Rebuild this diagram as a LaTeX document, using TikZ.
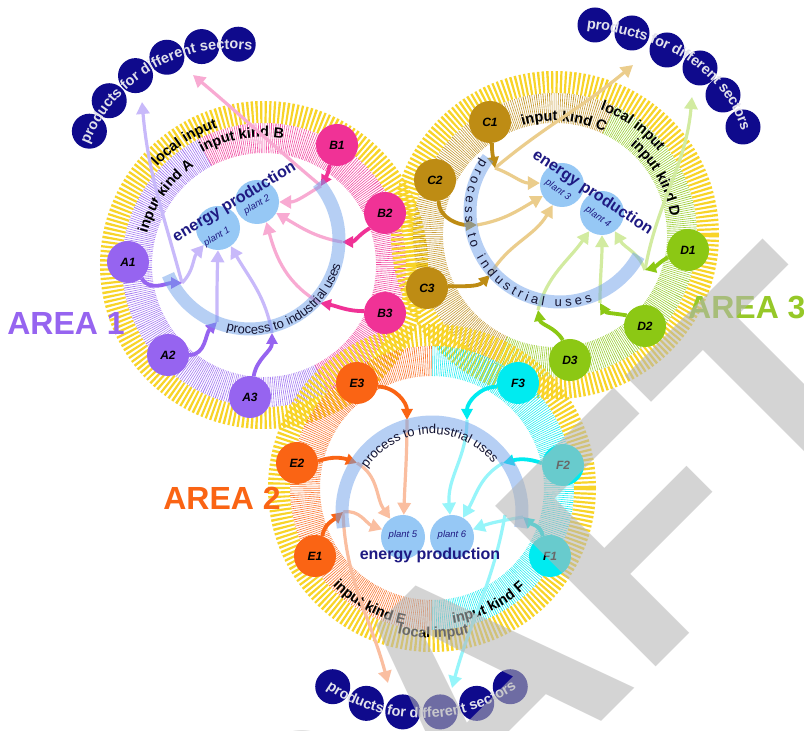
\documentclass[tikz,border=0pt]{standalone}
\usepackage{fontspec}
\setmainfont{Liberation Sans}
\usetikzlibrary{decorations.text,arrows.meta,calc}

\definecolor{colA}{RGB}{150,100,240}
\definecolor{colB}{RGB}{240,50,150}
\definecolor{colC}{RGB}{190,140,20}
\definecolor{colD}{RGB}{140,200,20}
\definecolor{colE}{RGB}{250,100,20}
\definecolor{colF}{RGB}{0,235,240}
\definecolor{paleA}{RGB}{200,185,250}
\definecolor{paleB}{RGB}{248,170,210}
\definecolor{paleC}{RGB}{235,205,140}
\definecolor{paleD}{RGB}{210,235,160}
\definecolor{paleE}{RGB}{250,190,160}
\definecolor{paleF}{RGB}{150,245,250}
\definecolor{ringY}{RGB}{248,212,40}
\definecolor{plantblue}{RGB}{150,200,245}
\definecolor{navy}{RGB}{15,10,140}
\definecolor{inkblue}{RGB}{30,25,130}
\definecolor{procblue}{RGB}{110,160,235}
\definecolor{procink}{RGB}{20,20,50}
\definecolor{prodink}{RGB}{225,225,235}
\definecolor{wmgray}{RGB}{181,181,181}
\definecolor{area3green}{RGB}{150,200,40}

\newcommand\ringfont{\fontsize{14.5}{15}\selectfont\bfseries}
\newcommand\procfont{\fontsize{13}{13}\selectfont}
\newcommand\prodfont{\fontsize{14.5}{15}\selectfont\bfseries}
% text set along a circular arc: centre, radius, start, end, font, colour, text
\newcommand\arclabel[7]{%
  \path[shift={#1}, decorate, decoration={text along path, text align=center,
        text color=#6, text={|#5|#7}}]
    (#3:#2) arc[start angle=#3, end angle=#4, radius=#2];}

\tikzset{
  areanode/.style={circle, minimum size=42pt, inner sep=0pt,
    font=\fontsize{12}{12}\selectfont\bfseries\itshape},
  plant/.style={circle, fill=plantblue, minimum size=44pt, inner sep=0pt},
  plantlabel/.style={inner sep=0pt, text=inkblue, font=\fontsize{9.5}{10}\selectfont\itshape},
  energy/.style={inner sep=0pt, text=inkblue, font=\fontsize{16}{16}\selectfont\bfseries},
  prod/.style={circle, fill=navy, minimum size=35pt, inner sep=0pt},
  feed/.style={line width=3.8pt, -{Triangle[length=11pt,width=11pt]}},
  pale/.style={line width=3.2pt, -{Triangle[length=12pt,width=13pt]}},
  yellowring/.style={draw=ringY, line width=22pt, dash pattern=on 2.2pt off 2.2pt},
  hatch/.style={line width=30pt, dash pattern=on 0.6pt off 1.4pt, draw opacity=0.85},
  proc/.style={draw=procblue, line width=13pt, opacity=0.5},
  arealabel/.style={inner sep=0pt, font=\fontsize{32}{32}\selectfont\bfseries},
}

\begin{document}
\begin{tikzpicture}[x=1pt,y=1pt]
\useasboundingbox (0,0) rectangle (804,731);
\clip (0,0) rectangle (804,731);
\fill[white] (0,0) rectangle (804,731);

% ---------- rings of the three areas ----------
\coordinate (cA) at (264,466);
\coordinate (cC) at (555,496);
\coordinate (cE) at (432,243);

\draw[yellowring] (cA) circle[radius=153];
\draw[hatch, colA, shift={(cA)}] (118:127) arc[start angle=118, end angle=297, radius=127];
\draw[hatch, colB, shift={(cA)}] (-63:127) arc[start angle=-63, end angle=118, radius=127];

\draw[yellowring] (cC) circle[radius=153];
\draw[hatch, colC, shift={(cC)}] (65:127) arc[start angle=65, end angle=245, radius=127];
\draw[hatch, colD, shift={(cC)}] (-115:127) arc[start angle=-115, end angle=65, radius=127];

\draw[yellowring] (cE) circle[radius=153];
\draw[hatch, colE, shift={(cE)}] (90:127) arc[start angle=90, end angle=270, radius=127];
\draw[hatch, colF, shift={(cE)}] (-90:127) arc[start angle=-90, end angle=90, radius=127];

% ---------- ring labels ----------
\arclabel{(cA)}{121}{185}{105}{\ringfont}{black}{input kind A}
\arclabel{(cA)}{128}{140}{60}{\ringfont}{black}{input kind B}
\arclabel{(cA)}{145}{160}{86}{\ringfont}{black}{local input}

\arclabel{(cC)}{114}{125}{46}{\ringfont}{black}{input kind C}
\arclabel{(cC)}{133}{90}{19}{\ringfont}{black}{local input}
\arclabel{(cC)}{117}{70}{-11}{\ringfont}{black}{input kind D}

\arclabel{(cE)}{139}{200}{283}{\ringfont}{black}{input kind E}
\arclabel{(cE)}{137}{255}{337}{\ringfont}{black}{input kind F}
\arclabel{(cE)}{150}{235}{306}{\ringfont}{black}{local input}

% ---------- plants ----------
\node[plant] (P1) at (218,503) {};
\node[plant] (P2) at (257,529) {};
\node[plant] (P3) at (562,546) {};
\node[plant] (P4) at (602,518) {};
\node[plant] (P5) at (403,194) {};
\node[plant] (P6) at (452,194) {};

% ---------- input nodes ----------
\node[areanode, fill=colA] (A1) at (128,469) {A1};
\node[areanode, fill=colA] (A2) at (168,376) {A2};
\node[areanode, fill=colA] (A3) at (250,334) {A3};
\node[areanode, fill=colB] (B1) at (337,586) {B1};
\node[areanode, fill=colB] (B2) at (385,518) {B2};
\node[areanode, fill=colB] (B3) at (385,418) {B3};
\node[areanode, fill=colC] (C1) at (490,609) {C1};
\node[areanode, fill=colC] (C2) at (435,551) {C2};
\node[areanode, fill=colC] (C3) at (427,443) {C3};
\node[areanode, fill=colD] (D1) at (688,481) {D1};
\node[areanode, fill=colD] (D2) at (645,405) {D2};
\node[areanode, fill=colD] (D3) at (570,371) {D3};
\node[areanode, fill=colE] (E1) at (315,175) {E1};
\node[areanode, fill=colE] (E2) at (297,268) {E2};
\node[areanode, fill=colE] (E3) at (357,348) {E3};
\node[areanode, fill=colF] (F1) at (550,175) {F1};
\node[areanode, fill=colF] (F2) at (563,266) {F2};
\node[areanode, fill=colF] (F3) at (518,348) {F3};

% ---------- products for different sectors ----------
\foreach \a [count=\i] in {153.6,140.3,127,113.7,100.4,87}
  \node[prod] (Q\i) at ($(230,530)+(\a:157)$) {};
\foreach \p [count=\i] in {(595,706),(632,698),(667,681),(700,663),(723,636),(743,604)}
  \node[prod] (R\i) at \p {};
\foreach \a [count=\i] in {237,250.2,263.4,276.6,289.8,303}
  \node[prod] (S\i) at ($(421.5,181)+(\a:163)$) {};

% ---------- delivery points on the process arcs ----------
\coordinate (a1t) at (182,448);
\coordinate (a2t) at (217,409);
\coordinate (a3t) at (272,398);
\coordinate (b1t) at (321,545);
\coordinate (b2t) at (342,489);
\coordinate (b3t) at (320,428);
\coordinate (c1t) at (495,563);
\coordinate (c2t) at (477,506);
\coordinate (c3t) at (490,456);
\coordinate (d1t) at (645,461);
\coordinate (d2t) at (600,428);
\coordinate (d3t) at (538,421);
\coordinate (e1t) at (343,219);
\coordinate (e2t) at (357,268);
\coordinate (e3t) at (407,311);
\coordinate (f1t) at (523,214);
\coordinate (f2t) at (503,268);
\coordinate (f3t) at (467,311);
\coordinate (f1s) at (505,216);
% ends of the outputs towards the sectors
\coordinate (lp1) at (142,629);
\coordinate (lp2) at (193,656);
\coordinate (lp3) at (633,666);
\coordinate (lp4) at (692,634);
\coordinate (lp5) at (388,48);
\coordinate (lp6) at (452,43);

% ---------- flows to the plants ----------
\draw[pale, paleA] (a1t) to[out=45, in=-130] (P1.-130);
\draw[pale, paleA] (a2t) to[out=90, in=-92] (P1.-90);
\draw[pale, paleA] (a3t) to[out=100, in=-60] (P1.-55);
\draw[pale, paleA] (a1t) to[out=105, in=-85] (lp1);
\draw[pale, paleB] (b1t) to[out=-150, in=0] (P2.east);
\draw[pale, paleB] (b2t) to[out=170, in=-30] (P2.-30);
\draw[pale, paleB] (b3t) to[out=150, in=-75] (P2.-65);
\draw[pale, paleB] (b1t) to[out=140, in=-40] (lp2);

\draw[pale, paleC] (c1t) to[out=-20, in=180] (P3.175);
\draw[pale, paleC] (c2t) to[out=10, in=-150] (P3.-150);
\draw[pale, paleC] (c3t) to[out=60, in=-120] (P3.-115);
\draw[pale, paleC] (c1t) to[out=40, in=-140] (lp3);
\draw[pale, paleD] (d3t) to[out=75, in=-125] (P4.-125);
\draw[pale, paleD] (d2t) to[out=90, in=-90] (P4.-90);
\draw[pale, paleD] (d1t) to[out=110, in=-60] (P4.-55);
\draw[pale, paleD] (d1t) to[out=80, in=-95] (lp4);

\draw[pale, paleE] (e3t) to[out=-90, in=88] (P5.88);
\draw[pale, paleE] (e2t) to[out=-30, in=125] (P5.125);
\draw[pale, paleE] (e1t) to[out=10, in=160] (P5.160);
\draw[pale, paleE] (e1t) to[out=-88, in=105] (lp5);
\draw[pale, paleF] (f3t) to[out=-90, in=95] (P6.95);
\draw[pale, paleF] (f2t) to[out=-150, in=60] (P6.60);
\draw[pale, paleF] (f1t) to[out=-170, in=20] (P6.20);
\draw[pale, paleF] (f1s) to[out=-100, in=75] (lp6);

% ---------- inputs to the process ----------
\draw[feed, colA] (A1.-50) to[out=-60, in=180] (a1t);
\draw[feed, colA] (A2.0) to[out=0, in=-135] (a2t);
\draw[feed, colA] (A3.80) to[out=80, in=-90] (a3t);
\draw[feed, colB] (B1.-110) to[out=-100, in=60] (b1t);
\draw[feed, colB] (B2.-135) to[out=-150, in=0] (b2t);
\draw[feed, colB] (B3.175) to[out=180, in=-10] (b3t);
\draw[feed, colC] (C1.-85) to[out=-90, in=100] (c1t);
\draw[feed, colC] (C2.-80) to[out=-90, in=180] (c2t);
\draw[feed, colC] (C3.5) to[out=0, in=-135] (c3t);
\draw[feed, colD] (D1.200) to[out=-150, in=15] (d1t);
\draw[feed, colD] (D2.150) to[out=170, in=-60] (d2t);
\draw[feed, colD] (D3.110) to[out=120, in=-80] (d3t);
\draw[feed, colE] (E3.-10) to[out=0, in=90] (e3t);
\draw[feed, colE] (E2.5) to[out=20, in=160] (e2t);
\draw[feed, colE] (E1.70) to[out=80, in=-140] (e1t);
\draw[feed, colF] (F3.190) to[out=180, in=90] (f3t);
\draw[feed, colF] (F2.175) to[out=160, in=15] (f2t);
\draw[feed, colF] (F1.110) to[out=100, in=-40] (f1t);

% ---------- process to industrial uses ----------
\draw[proc, shift={(250,491)}] (40:89) arc[start angle=40, end angle=-157, radius=89];
\draw[proc, shift={(560,519)}] (143:90) arc[start angle=143, end angle=331, radius=90];
\draw[proc, shift={(432,219)}] (-10:90) arc[start angle=-10, end angle=190, radius=90];
\arclabel{(250,491)}{94}{220}{380}{\procfont}{procink}{process to industrial uses}
\path[shift={(560,519)}, decorate, decoration={text along path, text align=fit to path,
      text color=procink, text={|\procfont|process to industrial uses}}]
  (146:95) arc[start angle=146, end angle=290, radius=95];
\arclabel{(432,219)}{78}{172}{13}{\procfont}{procink}{process to industrial uses}

% ---------- energy production ----------
\node[plantlabel, rotate=30] (P1t) at (217,494) {plant 1};
\node[plantlabel, rotate=30] (P2t) at (257,526) {plant 2};
\node[plantlabel, rotate=-35] (P3t) at (558,541) {plant 3};
\node[plantlabel, rotate=-35] (P4t) at (598,514) {plant 4};
\node[plantlabel] (P5t) at (403,196) {plant 5};
\node[plantlabel] (P6t) at (452,196) {plant 6};
\node[energy, rotate=31] (EP1) at (234.5,528.5) {energy production};
\node[energy, rotate=-33.5] (EP3) at (592.5,538) {energy production};
\node[energy] (EP2) at (430,176) {energy production};

% ---------- sector labels ----------
\arclabel{(230,530)}{152}{178}{62}{\prodfont}{prodink}{products for different sectors}
\path[decorate, decoration={text along path, text align=center, raise=-5pt,
      text color=prodink, text={|\prodfont|products for different sectors}}]
  (560,710) .. controls (660,706) and (742,664) .. (752,575);
\arclabel{(421.5,181)}{168}{212}{328}{\prodfont}{prodink}{products for different sectors}

% ---------- area names ----------
\node[arealabel, text=colA] (N1) at (66,408) {AREA 1};
\node[arealabel, text=colE] (N2) at (222,233) {AREA 2};
\node[arealabel, text=area3green, anchor=west] (N3) at (688,423) {AREA 3};

% ---------- draft stamp ----------
\node[rotate=45, anchor=base west, inner sep=0pt, text=wmgray, text opacity=0.575,
      font=\fontsize{330}{330}\selectfont\bfseries] (stamp) at (135,-457) {DRAFT};
\end{tikzpicture}
\end{document}
